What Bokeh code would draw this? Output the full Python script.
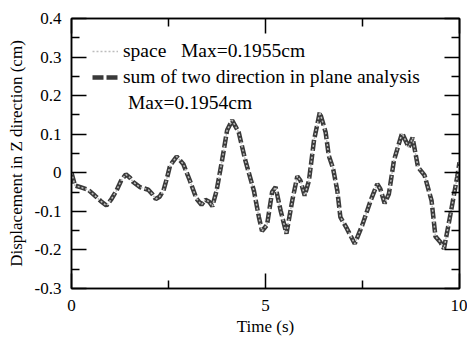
from bokeh.plotting import figure
from bokeh.models import (LinearAxis, FixedTicker, Legend, LegendItem, Range1d)
from bokeh.embed import file_html
from bokeh.resources import INLINE

time_s = [0.00, 0.09, 0.25, 0.43, 0.60, 0.75, 0.90, 1.03, 1.16, 1.28, 1.40, 1.50,
          1.59, 1.76, 1.98, 2.08, 2.17, 2.27, 2.37, 2.47, 2.54, 2.71, 2.88, 3.05,
          3.22, 3.35, 3.45, 3.55, 3.63, 3.74, 3.88, 4.01, 4.14, 4.31, 4.48, 4.70,
          4.83, 4.91, 5.04, 5.17, 5.26, 5.39, 5.54, 5.69, 5.82, 5.90, 6.01, 6.12,
          6.25, 6.40, 6.55, 6.63, 6.74, 6.85, 6.93, 7.10, 7.30, 7.49, 7.71, 7.88,
          7.96, 8.07, 8.18, 8.31, 8.52, 8.69, 8.79, 8.93, 9.10, 9.28, 9.38, 9.51,
          9.60, 9.77, 9.94, 10.00]
sum_plane = [0.000, -0.033, -0.038, -0.044, -0.059, -0.073, -0.085, -0.068, -0.046, -0.020,
             -0.004, -0.012, -0.024, -0.037, -0.044, -0.055, -0.068, -0.062, -0.046, -0.010,
             0.019, 0.042, 0.023, -0.020, -0.067, -0.083, -0.070, -0.075, -0.087, -0.046,
             0.032, 0.110, 0.136, 0.105, 0.032, -0.046, -0.115, -0.151, -0.135, -0.050,
             -0.037, -0.098, -0.158, -0.072, -0.009, -0.020, -0.059, -0.020, 0.084, 0.157,
             0.105, 0.045, 0.012, -0.046, -0.115, -0.145, -0.184, -0.137, -0.072, -0.029,
             -0.042, -0.079, -0.055, 0.032, 0.103, 0.066, 0.091, 0.015, -0.007, -0.072,
             -0.165, -0.180, -0.197, -0.106, -0.011, 0.027]
space = list(sum_plane)

y_ticks = [-0.3, -0.2, -0.1, 0.0, 0.1, 0.2, 0.3, 0.4]
y_labels = ["-0.3", "-0.2", "-0.1", "0", "0.1", "0.2", "0.3", "0.4"]
y_minor = [-0.25, -0.15, -0.05, 0.05, 0.15, 0.25, 0.35]
x_ticks = [0, 5, 10]
x_labels = ["0", "5", "10"]
x_minor = [2.5, 7.5]

FONT = "Liberation Serif"

p = figure(width=467, height=339, output_backend="svg", toolbar_location=None,
           x_range=Range1d(0, 10), y_range=Range1d(-0.3, 0.4),
           min_border_left=71, min_border_right=8, min_border_top=18, min_border_bottom=51,
           background_fill_color="white", border_fill_color="white")
p.grid.visible = False
p.outline_line_color = "black"
p.outline_line_width = 1.5

def style_axis(ax, show_labels):
    ax.axis_line_color = "black"
    ax.axis_line_width = 1.5
    ax.major_tick_in = 15
    ax.major_tick_out = 0
    ax.minor_tick_in = 8
    ax.minor_tick_out = 0
    ax.major_tick_line_width = 1.5
    ax.minor_tick_line_width = 1.5
    ax.major_tick_line_color = "black"
    ax.minor_tick_line_color = "black"
    ax.major_label_text_font = FONT
    ax.major_label_text_font_size = "17px" if show_labels else "1px"
    ax.major_label_text_color = "black"
    ax.axis_label_text_font = FONT
    ax.axis_label_text_font_size = "17px"
    ax.axis_label_text_font_style = "normal"
    ax.axis_label_text_color = "black"

xt = FixedTicker(ticks=x_ticks, minor_ticks=x_minor)
yt = FixedTicker(ticks=y_ticks, minor_ticks=y_minor)

xa = p.xaxis[0]
xa.ticker = xt
xa.major_label_overrides = {t: l for t, l in zip(x_ticks, x_labels)}
xa.axis_label = "Time (s)"
style_axis(xa, True)
xa.major_label_standoff = 11
xa.axis_label_standoff = 3

ya = p.yaxis[0]
ya.ticker = yt
ya.major_label_overrides = {t: l for t, l in zip(y_ticks, y_labels)}
ya.axis_label = "Displacement in Z direction (cm)"
style_axis(ya, True)
ya.major_label_standoff = 10
ya.axis_label_standoff = 6

ra = LinearAxis(ticker=yt)
style_axis(ra, False)
ra.major_label_overrides = {t: "" for t in y_ticks}
ra.major_label_standoff = 0
p.add_layout(ra, "right")

ta = LinearAxis(ticker=xt)
style_axis(ta, False)
ta.major_label_overrides = {t: "" for t in x_ticks}
ta.major_label_standoff = 0
p.add_layout(ta, "above")

r_sum = p.line(time_s, sum_plane, line_color="#3a3a3a", line_width=4.5, line_dash="11 3")
r_space = p.line(time_s, space, line_color="#bdbdbd", line_width=1.5, line_dash="2 2")
r_blank = p.line(time_s, sum_plane, line_alpha=0, line_width=0)

legend = Legend(items=[
    LegendItem(label="space\u00a0\u00a0\u00a0Max=0.1955cm", renderers=[r_space]),
    LegendItem(label="sum of two direction in plane analysis", renderers=[r_sum]),
    LegendItem(label="\u00a0Max=0.1954cm", renderers=[r_blank]),
], location=(21, 174), orientation="vertical")
legend.background_fill_alpha = 0
legend.border_line_alpha = 0
legend.padding = 0
legend.margin = 0
legend.spacing = 4
legend.glyph_width = 26
legend.glyph_height = 20
legend.label_height = 20
legend.label_standoff = 5
legend.label_text_font = FONT
legend.label_text_font_size = "19.5px"
legend.label_text_color = "black"
p.add_layout(legend, "center")

open("out.html", "w").write(file_html(p, INLINE))
